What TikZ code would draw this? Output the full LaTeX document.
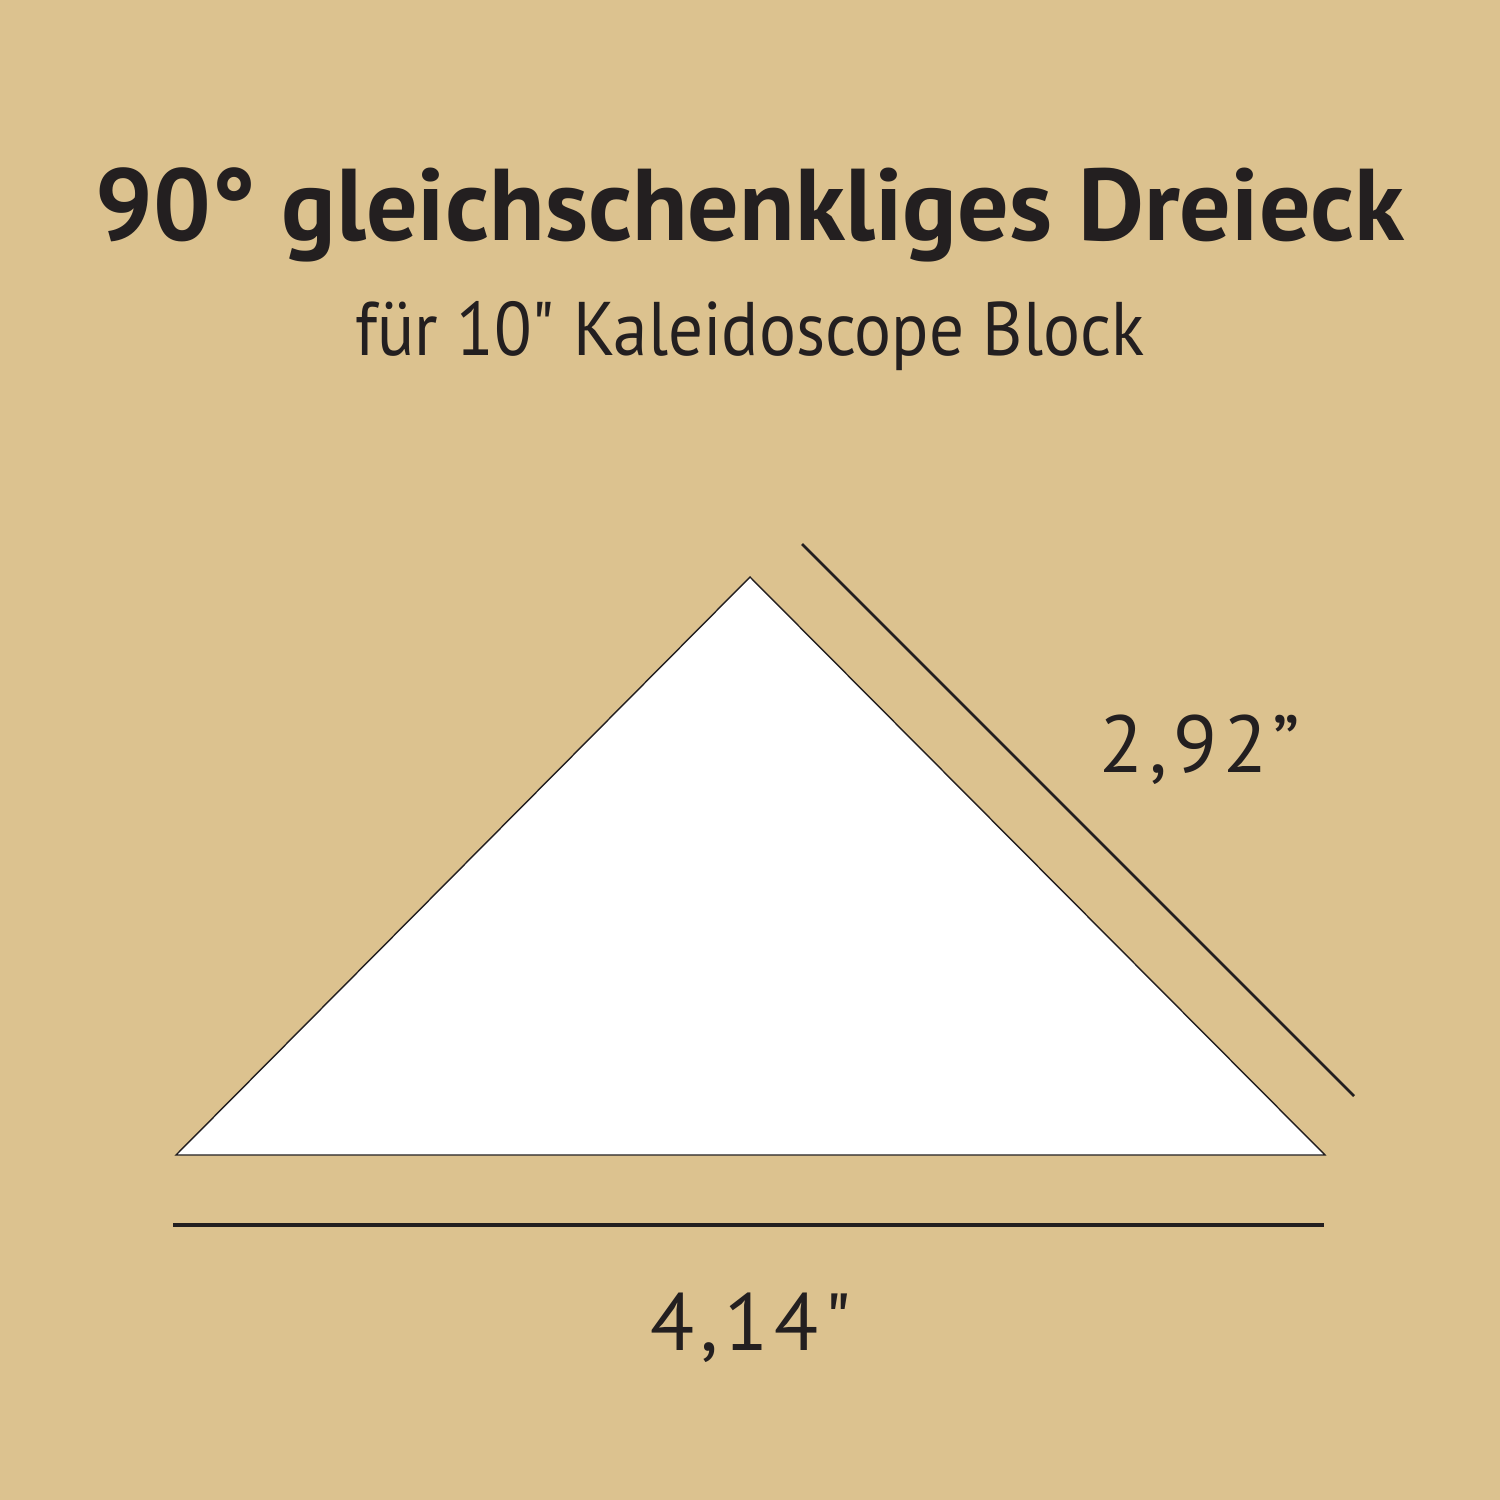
\documentclass[tikz,border=0pt]{standalone}
\usepackage{fontspec}
\setmainfont{PT Sans}[Ligatures=TeXOff]
\newfontfamily\spaced{PT Sans}[LetterSpace=7,Ligatures=TeXOff]
\newfontfamily\narrow{PT Sans}[FakeStretch=0.91,Ligatures=TeXOff]
\definecolor{bg}{HTML}{DCC28F}
\definecolor{ink}{HTML}{231F20}
\begin{document}
\begin{tikzpicture}[x=0.01cm,y=-0.01cm,
  dimline/.style={draw=ink,line width=1.2pt},
  lbl/.style={text=ink,inner sep=0pt}]
\fill[bg] (0,0) rectangle (1500,1500);
\useasboundingbox (0,0) rectangle (1500,1500);
\node[lbl,anchor=base] (title) at (750,240) {\fontsize{29pt}{31pt}\selectfont\bfseries 90° gleichschenkliges Dreieck};
\node[lbl,anchor=base] (sub) at (750,355) {\fontsize{21.6pt}{24pt}\narrow\selectfont für 10" Kaleidoscope Block};
\coordinate (A) at (750,577);
\coordinate (L) at (176,1155);
\coordinate (R) at (1325,1155);
\fill[white,draw=ink,line width=0.4pt] (A) -- (R) -- (L) -- cycle;
\coordinate (d1) at (802,544);
\coordinate (d2) at (1354,1096);
\draw[dimline,line width=0.8pt] (d1) -- (d2);
\coordinate (b1) at (173,1225);
\coordinate (b2) at (1324,1225);
\draw[dimline] (b1) -- (b2);
\node[lbl,anchor=base] (side) at (1200,772) {\fontsize{23pt}{26pt}\spaced\selectfont 2,92”};
\node[lbl,anchor=base] (base) at (751,1350) {\fontsize{23pt}{26pt}\spaced\selectfont 4,14"};
\end{tikzpicture}
\end{document}
